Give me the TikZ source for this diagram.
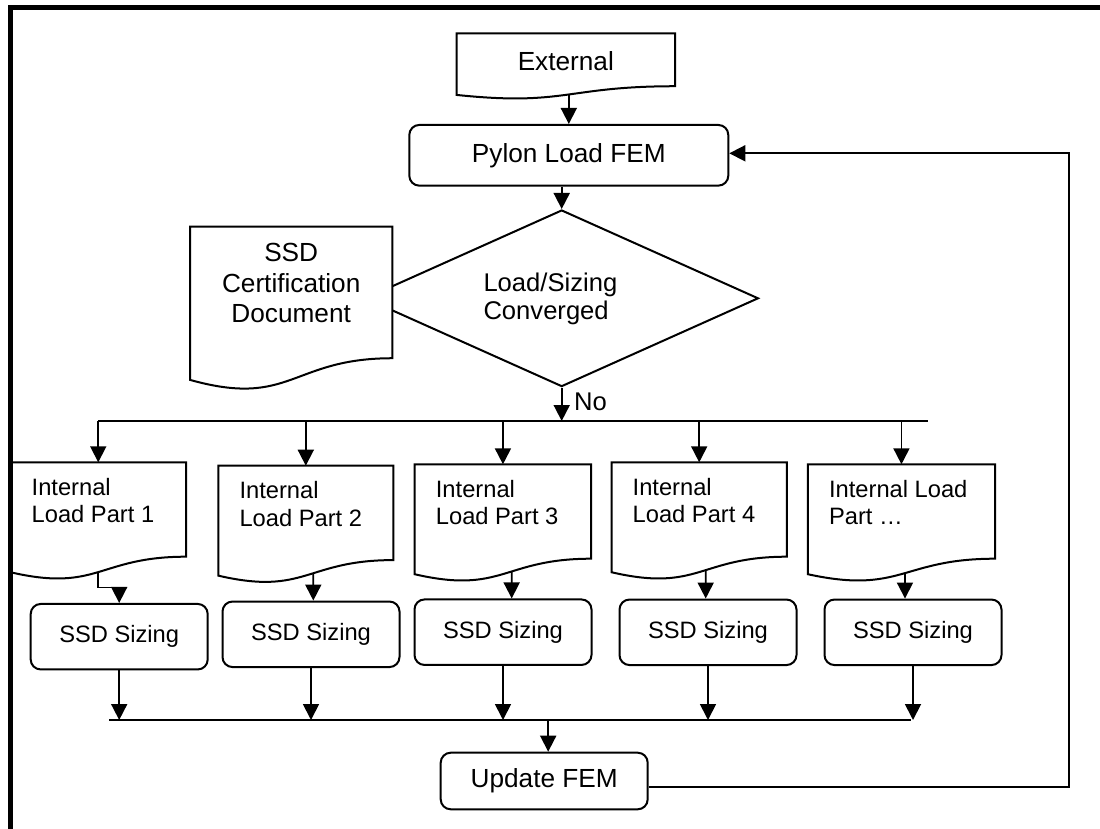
\documentclass[tikz,border=0pt]{standalone}
\usepackage{fontspec}
\setmainfont{Liberation Sans}
\usetikzlibrary{arrows.meta,calc,shapes.geometric}

\newcommand\flowbig{\fontsize{26.2}{30.5}\selectfont}
\newcommand\flowmid{\fontsize{25.6}{28.3}\selectfont}
\newcommand\flowsmall{\fontsize{23.7}{27.3}\selectfont}

% Wavy-bottom "document" outline drawn on the bounding box of node #1;
% also defines #1-b, the point where the wave crosses the centre line.
\newcommand\docoutline[1]{%
  \draw[docline] (#1.north west) -- (#1.north east)
    -- ($(#1.north east)!0.802!(#1.south east)$)
    .. controls ($(#1.north)!0.802!(#1.south)$) and ($(#1.north)!1.107!(#1.south)$)
    .. ($(#1.north west)!0.934!(#1.south west)$) -- cycle;
  \coordinate (#1-b) at ($(#1.north)!0.933!(#1.south)$);
}

\begin{document}
\begin{tikzpicture}[x=1pt,y=-1pt,
  flowbox/.style={rectangle, rounded corners=10pt, draw, line width=2pt,
    inner sep=0pt, font=\flowbig},
  sizebox/.style={flowbox, font=\flowsmall, minimum width=177pt, minimum height=65.5pt},
  docbox/.style={rectangle, inner sep=0pt, outer sep=0pt},
  docline/.style={draw, line width=2pt, fill=white, line join=miter},
  conn/.style={line width=1.8pt},
  arr/.style={conn, -{Triangle[width=16pt,length=16pt]}},
  bigtext/.style={inner sep=0pt, font=\flowbig},
  midtext/.style={inner sep=0pt, font=\flowmid},
  parttext/.style={inner sep=0pt, font=\flowsmall, align=left, anchor=base west},
]
\useasboundingbox (0,0) rectangle (1100,829);

% ---- top of the chart
\node[docbox, anchor=north west, minimum width=218.3pt, minimum height=66pt] (ext) at (456.7,33.3) {};
\docoutline{ext}
\node[bigtext, anchor=base] (ext-t) at (565.8,71) {External};

\node[flowbox, minimum width=319pt, minimum height=60.7pt] (pylon) at (568.8,155.3) {Pylon Load FEM};

\node[diamond, draw, line width=2pt, inner sep=0pt, aspect=2.23,
      minimum width=393.4pt, minimum height=176.6pt] (dia) at (561.7,298.3) {};
% multi-line texts are anchored on the baseline of their last line
\node[midtext, align=left, anchor=base west] (dia-t) at (483.3,319.3) {Load/Sizing\\Converged};

\node[docbox, anchor=north west, minimum width=202.3pt, minimum height=164pt] (cert) at (190,226.7) {};
\docoutline{cert}
\node[bigtext, align=center, anchor=base] (cert-t) at (291.2,322.7) {SSD\\Certification\\Document};

\node[midtext, anchor=base west] (no) at (574,410) {No};

% ---- internal load documents
\node[docbox, anchor=north west, minimum width=175.5pt, minimum height=117.7pt] (d1) at (10.5,462.3) {};
\node[docbox, anchor=north west, minimum width=175pt,   minimum height=117.7pt] (d2) at (218.3,465.7) {};
\node[docbox, anchor=north west, minimum width=176.5pt, minimum height=117.7pt] (d3) at (414.7,464.3) {};
\node[docbox, anchor=north west, minimum width=175.4pt, minimum height=117.7pt] (d4) at (611.5,462.3) {};
\node[docbox, anchor=north west, minimum width=187.1pt, minimum height=117.7pt] (d5) at (807.9,464.3) {};
\docoutline{d1}
\docoutline{d2}
\docoutline{d3}
\docoutline{d4}
\docoutline{d5}
\node[parttext] (d1-t) at ($(d1.north west)+(21,60.3)$) {Internal\\Load Part 1};
\node[parttext] (d2-t) at ($(d2.north west)+(21,60.3)$) {Internal\\Load Part 2};
\node[parttext] (d3-t) at ($(d3.north west)+(21,60.3)$) {Internal\\Load Part 3};
\node[parttext] (d4-t) at ($(d4.north west)+(21,60.3)$) {Internal\\Load Part 4};
\node[parttext] (d5-t) at ($(d5.north west)+(21,60.3)$) {Internal Load\\Part …};

% ---- sizing boxes
\node[sizebox] (b1) at (119.2,636.7) {SSD Sizing};
\node[sizebox] (b2) at (311,634.3) {SSD Sizing};
\node[sizebox] (b3) at (503,632.2) {SSD Sizing};
\node[sizebox] (b4) at (708,632.3) {SSD Sizing};
\node[sizebox] (b5) at (913,632.3) {SSD Sizing};

\node[flowbox, minimum width=207pt, minimum height=56.6pt] (upd) at (544.2,781) {Update FEM};

% ---- bus lines and routing points
\coordinate (topbus) at (0,421);
\coordinate (topbusR) at (927.7,421);
\coordinate (botbusL) at (109.3,720);
\coordinate (botbusR) at (910.7,720);
\coordinate (fb) at (1069.3,470);

% ---- connectors
\draw[arr] (ext-b -| pylon.north) -- (pylon.north);
\draw[arr] (pylon.south -| dia.north) -- (dia.north);
\draw[arr] (dia.south) -- (dia.south |- topbus);
\draw[conn] (d1.north |- topbus) -- (topbusR);
\foreach \d in {d1,d2,d3,d4,d5}
  \draw[arr] (\d.north |- topbus) -- (\d.north);

\draw[arr] (d1-b) |- ($(d1-b)!0.5!(b1.north)$) -| (b1.north);
\draw[arr] ([xshift=7.5pt,yshift=2pt]d2-b) -- ([xshift=2.3pt]b2.north);
\draw[arr] ([xshift=8.7pt,yshift=2.5pt]d3-b) -- ([xshift=8.7pt]b3.north);
\draw[arr] ([xshift=6.5pt,yshift=1.9pt]d4-b) -- ([xshift=-2.3pt]b4.north);
\draw[arr] ([xshift=3.5pt,yshift=1pt]d5-b) -- ([xshift=-8pt]b5.north);

\foreach \b in {b1,b2,b3,b4,b5}
  \draw[arr] (\b.south) -- (\b.south |- botbusL);
\draw[conn] (botbusL) -- (botbusR);
\draw[arr] ([xshift=4pt]upd.north |- botbusL) -- ([xshift=4pt]upd.north);

\draw[arr] ([yshift=-5.7pt]upd.east) -| (fb) |- ([yshift=2pt]pylon.east);

% ---- page frame (top and left edges)
\draw[line width=5pt, line join=miter] (10.8,829) -- (10.8,7.5) -- (1100,7.5);
\end{tikzpicture}
\end{document}
